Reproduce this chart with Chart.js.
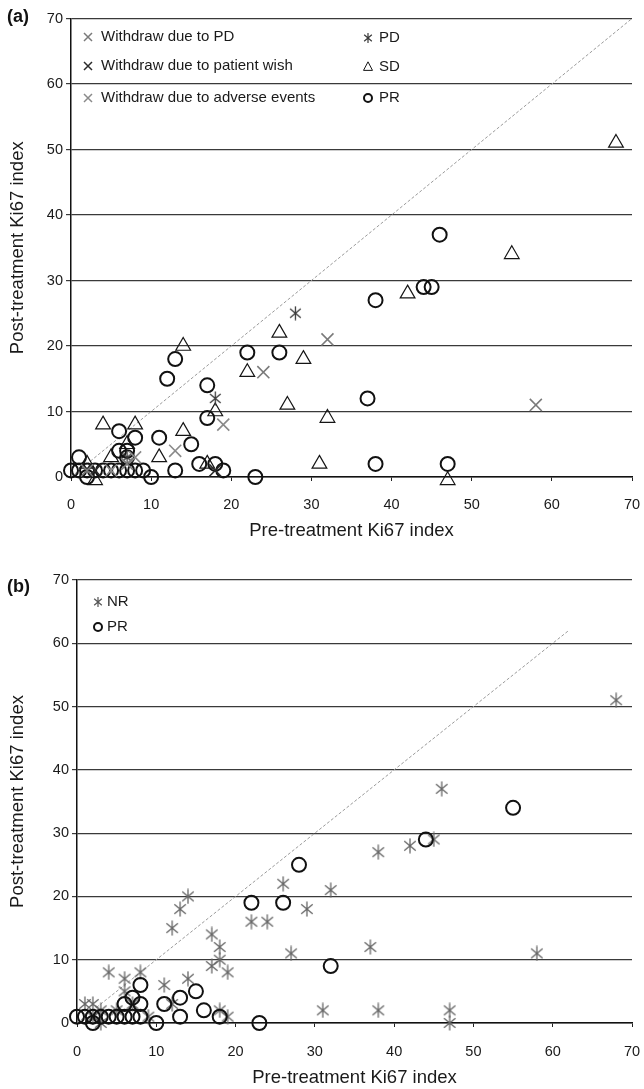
<!DOCTYPE html>
<html><head><meta charset="utf-8">
<script src="https://cdn.jsdelivr.net/npm/chart.js@4.4.1/dist/chart.umd.min.js"></script>
<style>
html,body{margin:0;padding:0;background:#fff;width:644px;height:1089px;overflow:hidden;font-family:"Liberation Sans",Arial,sans-serif;}
.wrap{position:absolute;left:0;width:644px;}
#wa{top:0;height:545px;}
#wb{top:560px;height:529px;}
.panel{position:absolute;font-weight:bold;font-size:18px;color:#111;font-family:"Liberation Sans",Arial,sans-serif;}
</style></head>
<body>
<div class="wrap" id="wa"><canvas id="ca" width="644" height="545"></canvas></div>
<div class="wrap" id="wb"><canvas id="cb" width="644" height="529"></canvas></div>
<div class="panel" style="left:7px;top:6px">(a)</div>
<div class="panel" style="left:7px;top:576px">(b)</div>
<script>
// ---------------- DATA ----------------
const xTickValues = [0,10,20,30,40,50,60,70];
const yTickValues = [0,10,20,30,40,50,60,70];
const xTitle = 'Pre-treatment Ki67 index';
const yTitle = 'Post-treatment Ki67 index';
const identityLineA = [[0,0],[70,70]];
const identityLineB = [[0,0],[62,62]];

// Panel (a)
const aLabels = ['Withdraw due to PD','Withdraw due to patient wish','Withdraw due to adverse events','PD','SD','PR'];
const aWithdrawPD = [[58,11],[32,21],[24,16],[2,1],[7,2]];
const aWithdrawWish = [[18,1],[3,1]];
const aWithdrawAE = [[19,8],[13,4],[8,3],[5,1]];
const aPD = [[28,25],[18,12],[7,3]];
const aSD = [[68,51],[55,34],[42,28],[26,22],[29,18],[22,16],[14,20],[18,10],[27,11],[32,9],[31,2],[47,-0.5],[17,2],[4,8],[8,8],[14,7],[11,3],[7,5],[3,-0.5],[2,2],[5,3]];
const aPR = [[46,37],[44,29],[45,29],[38,27],[22,19],[26,19],[13,18],[12,15],[17,14],[17,9],[37,12],[38,2],[47,2],[23,0],[10,0],[19,1],[18,2],[16,2],[13,1],[15,5],[11,6],[6,7],[8,6],[6,4],[7,4],[7,3],[1,3],[2,0],[0,1],[1,1],[2,1],[3,1],[4,1],[5,1],[6,1],[7,1],[8,1],[9,1]];

// Panel (b)
const bLabels = ['NR','PR'];
const bNR = [[68,51],[46,37],[45,29],[42,28],[38,27],[26,22],[32,21],[29,18],[22,16],[24,16],[14,20],[13,18],[12,15],[17,14],[18,12],[18,10],[17,9],[19,8],[27,11],[37,12],[58,11],[4,8],[8,8],[6,7],[6,5],[11,6],[14,7],[12,3],[18,2],[19,1],[31,2],[38,2],[47,2],[47,0],[1,3],[2,3],[3,2],[5,2],[7,3],[9,1],[2,1],[3,0]];
const bPR = [[0,1],[1,1],[2,1],[2,0],[3,1],[4,1],[5,1],[6,1],[7,1],[8,1],[6,3],[7,4],[8,3],[8,6],[10,0],[11,3],[13,4],[13,1],[15,5],[16,2],[18,1],[22,19],[26,19],[28,25],[23,0],[32,9],[44,29],[55,34]];

// ---------------- STYLE ----------------
const FONT = '"Liberation Sans", Arial, sans-serif';
const toXY = arr => arr.map(p => ({x:p[0], y:p[1]}));

function asterisk(size, color, lw){
  const c = document.createElement('canvas');
  c.width = size; c.height = size;
  const g = c.getContext('2d');
  g.strokeStyle = color; g.lineWidth = lw;
  const m = size/2, r = size/2 - 0.5;
  const th = 50*Math.PI/180;
  g.beginPath();
  g.moveTo(m, m-r); g.lineTo(m, m+r);
  g.moveTo(m - r*Math.sin(th), m - r*Math.cos(th)); g.lineTo(m + r*Math.sin(th), m + r*Math.cos(th));
  g.moveTo(m + r*Math.sin(th), m - r*Math.cos(th)); g.lineTo(m - r*Math.sin(th), m + r*Math.cos(th));
  g.stroke();
  return c;
}

function drawMarker(ctx, kind, x, y, s, color, lw){
  ctx.save();
  ctx.strokeStyle = color; ctx.lineWidth = lw;
  ctx.beginPath();
  if (kind === 'x'){
    ctx.moveTo(x-s,y-s); ctx.lineTo(x+s,y+s); ctx.moveTo(x+s,y-s); ctx.lineTo(x-s,y+s);
  } else if (kind === 'tri'){
    ctx.moveTo(x, y-s*1.15); ctx.lineTo(x+s, y+s*0.75); ctx.lineTo(x-s, y+s*0.75); ctx.closePath();
  } else if (kind === 'circle'){
    ctx.arc(x,y,s,0,Math.PI*2);
  } else if (kind === 'ast'){
    const th = 50*Math.PI/180;
    ctx.moveTo(x,y-s); ctx.lineTo(x,y+s);
    ctx.moveTo(x-s*Math.sin(th), y-s*Math.cos(th)); ctx.lineTo(x+s*Math.sin(th), y+s*Math.cos(th));
    ctx.moveTo(x+s*Math.sin(th), y-s*Math.cos(th)); ctx.lineTo(x-s*Math.sin(th), y+s*Math.cos(th));
  }
  ctx.stroke();
  ctx.restore();
}

const legendPlugin = {
  id: 'customLegend',
  afterDraw(chart, args, opts){
    if (!opts || !opts.items) return;
    const ctx = chart.ctx;
    ctx.save();
    ctx.font = '15px ' + FONT;
    ctx.fillStyle = '#1a1a1a';
    ctx.textBaseline = 'middle';
    ctx.textAlign = 'left';
    opts.items.forEach(it => {
      drawMarker(ctx, it.kind, it.mx, it.y, it.s, it.color, it.lw);
      ctx.fillText(it.text, it.tx, it.y);
    });
    ctx.restore();
  }
};

function scales(c){
  return {
    x: {
      type:'linear', min:0, max:70,
      afterBuildTicks: s => { s.ticks = xTickValues.map(v => ({value:v})); },
      ticks: {font:{family:FONT,size:14.5}, color:'#1a1a1a', padding:c.xpad, maxRotation:0, autoSkip:false},
      grid: {display:true, drawOnChartArea:false, drawTicks:true, tickLength:4, color:'#222', lineWidth:1},
      border: {display:true, color:'#111', width:1.5},
      title: {display:true, text:xTitle, font:{family:FONT,size:18.5}, color:'#1a1a1a', padding:{top:0,bottom:c.xtp}},
      afterFit: s => { s.height = c.xh; s.paddingLeft = 0; s.paddingRight = 0; }
    },
    y: {
      type:'linear', min:0, max:70,
      afterBuildTicks: s => { s.ticks = yTickValues.map(v => ({value:v})); },
      ticks: {font:{family:FONT,size:14.5}, color:'#1a1a1a', padding:3},
      grid: {display:true, drawOnChartArea:true, drawTicks:true, tickLength:5, color:'#3a3a3a', lineWidth:1.2},
      border: {display:true, color:'#111', width:1.5},
      title: {display:true, text:yTitle, font:{family:FONT,size:18.5}, color:'#1a1a1a', padding:{top:c.ytp,bottom:c.ytp}},
      afterFit: s => { s.width = c.yw; s.paddingTop = 0; s.paddingBottom = 0; }
    }
  };
}

const base = {
  responsive:false, animation:false, events:[],
  plugins:{legend:{display:false}, tooltip:{enabled:false}}
};

const lineDS = (pts) => ({type:'line', data:toXY(pts), borderColor:'#9a9a9a', borderWidth:1, borderDash:[3,2], pointRadius:0, fill:false, clip:false, order:10});

// ---------------- CHART A ----------------
const astA = asterisk(15, '#3a3a3a', 1.3);
new Chart(document.getElementById('ca'), {
  type:'scatter',
  data:{datasets:[
    {label:aLabels[0], data:toXY(aWithdrawPD), pointStyle:'crossRot', pointRadius:8.5, borderColor:'#7a7a7a', borderWidth:1.6, clip:false},
    {label:aLabels[1], data:toXY(aWithdrawWish), pointStyle:'crossRot', pointRadius:8.5, borderColor:'#2a2a2a', borderWidth:1.6, clip:false},
    {label:aLabels[2], data:toXY(aWithdrawAE), pointStyle:'crossRot', pointRadius:8.5, borderColor:'#8a8a8a', borderWidth:1.6, clip:false},
    {label:aLabels[3], data:toXY(aPD), pointStyle:astA, clip:false},
    {label:aLabels[4], data:toXY(aSD), pointStyle:'triangle', pointRadius:8.5, borderColor:'#151515', backgroundColor:'rgba(0,0,0,0)', borderWidth:1.2, clip:false},
    {label:aLabels[5], data:toXY(aPR), pointStyle:'circle', pointRadius:7, borderColor:'#111', backgroundColor:'rgba(0,0,0,0)', borderWidth:2, clip:false},
    lineDS(identityLineA)
  ]},
  options:Object.assign({}, base, {
    layout:{padding:{top:18.5, right:12, left:0, bottom:0}},
    scales:scales({xpad:15, xtp:3, xh:68, ytp:7, yw:71}),
    plugins:Object.assign({}, base.plugins, {customLegend:{items:[
      {kind:'x', mx:88, tx:101, y:37, s:4, color:'#7a7a7a', lw:1.5, text:aLabels[0]},
      {kind:'x', mx:88, tx:101, y:66, s:4, color:'#2a2a2a', lw:1.5, text:aLabels[1]},
      {kind:'x', mx:88, tx:101, y:98, s:4, color:'#8a8a8a', lw:1.5, text:aLabels[2]},
      {kind:'ast', mx:368, tx:379, y:38, s:5, color:'#3a3a3a', lw:1.2, text:aLabels[3]},
      {kind:'tri', mx:368, tx:379, y:67, s:4.5, color:'#151515', lw:1, text:aLabels[4]},
      {kind:'circle', mx:368, tx:379, y:98, s:4, color:'#111', lw:2, text:aLabels[5]}
    ]}})
  }),
  plugins:[legendPlugin]
});

// ---------------- CHART B ----------------
const astB = asterisk(16, '#666', 1.3);
new Chart(document.getElementById('cb'), {
  type:'scatter',
  data:{datasets:[
    {label:bLabels[1], data:toXY(bPR), pointStyle:'circle', pointRadius:7, borderColor:'#111', backgroundColor:'rgba(0,0,0,0)', borderWidth:2, clip:false},
    {label:bLabels[0], data:toXY(bNR), pointStyle:astB, clip:false},
    lineDS(identityLineB)
  ]},
  options:Object.assign({}, base, {
    layout:{padding:{top:20, right:12, left:0, bottom:0}},
    scales:scales({xpad:16, xtp:0, xh:66, ytp:7, yw:77}),
    plugins:Object.assign({}, base.plugins, {customLegend:{items:[
      {kind:'ast', mx:98, tx:107, y:42, s:5, color:'#555', lw:1.2, text:bLabels[0]},
      {kind:'circle', mx:98, tx:107, y:67, s:4, color:'#111', lw:2, text:bLabels[1]}
    ]}})
  }),
  plugins:[legendPlugin]
});
</script>
</body></html>
